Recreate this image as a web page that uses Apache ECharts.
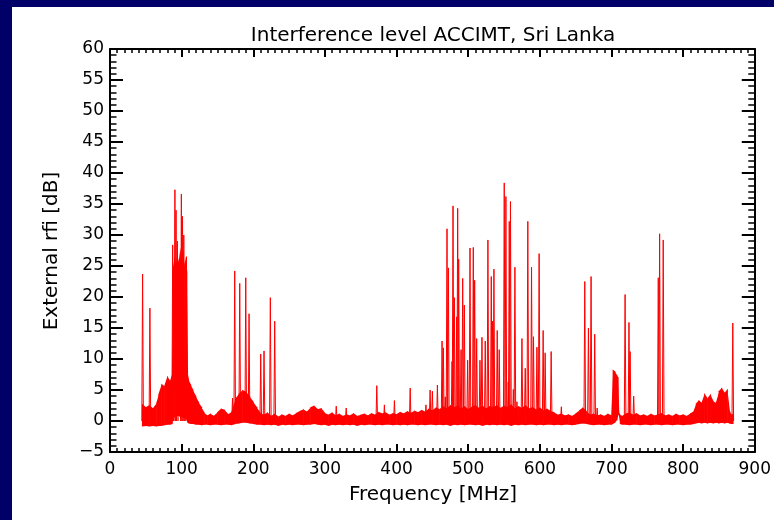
<!DOCTYPE html>
<html>
<head>
<meta charset="utf-8">
<title>Interference level ACCIMT, Sri Lanka</title>
<script src="https://cdn.jsdelivr.net/npm/echarts@6/dist/echarts.min.js"></script>
<style>
  html, body { margin: 0; padding: 0; background: #ffffff; }
  #chart { width: 774px; height: 520px; }
</style>
</head>
<body>
<div id="chart"></div>
<script>
// Axis ticks
const xTicks = [0, 100, 200, 300, 400, 500, 600, 700, 800, 900];
const yTicks = [-5, 0, 5, 10, 15, 20, 25, 30, 35, 40, 45, 50, 55, 60];

// Background noise floor of the spectrum: frequency (MHz), lower and upper edge (dB)
const bandFreq = [
  45, 50, 55, 60, 65, 68, 72, 76, 80, 84, 87,
  88, 90, 92, 94, 96, 98, 100, 102, 104, 106, 107.5,
  108.5, 110, 113, 116, 120, 124, 128, 132, 136, 140, 145, 150, 155, 160, 165, 170,
  175, 180, 185, 190, 195, 200, 205, 210, 215, 220, 225, 230, 235, 240, 245, 250,
  255, 260, 265, 270, 275, 280, 285, 290, 295, 300, 305, 310, 315, 320, 325, 330,
  335, 340, 345, 350, 355, 360, 365, 370, 375, 380, 385, 390, 395, 400, 405, 410,
  415, 420, 425, 430, 435, 440, 445, 450, 455, 460, 465, 470, 475, 480, 485, 490,
  495, 500, 505, 510, 515, 520, 525, 530, 535, 540, 545, 550, 555, 560, 565, 570,
  575, 580, 585, 590, 595, 600, 605, 610, 615, 620, 625, 630, 635, 640, 645, 650,
  655, 660, 665, 670, 675, 680, 685, 690, 695, 700,
  702, 705, 708, 709.5, 710.5, 712, 715, 720, 725, 730, 735, 740, 745, 750, 755,
  760, 765, 770, 775, 780, 785, 790, 795, 800, 805, 810,
  815, 818, 822, 826, 830, 834, 838, 842, 846, 850, 854, 858, 862, 864.5, 867, 870
];
const bandLow = [
  -0.9, -0.8, -0.9, -0.8, -0.9, -0.8, -0.8, -0.7, -0.6, -0.6, -0.5,
  0.3, 0.6, 0.8, 0.8, 0.8, 0.6, 0.6, 0.5, 0.5, 0.4, 0.0,
  -0.3, -0.4, -0.5, -0.5, -0.6, -0.6, -0.7, -0.6, -0.6, -0.7, -0.6, -0.6, -0.7, -0.6, -0.6, -0.7,
  -0.5, -0.4, -0.3, -0.3, -0.4, -0.5, -0.6, -0.6, -0.7, -0.6, -0.7, -0.6, -0.8, -0.6, -0.7, -0.6,
  -0.7, -0.6, -0.6, -0.7, -0.6, -0.6, -0.5, -0.6, -0.7, -0.6, -0.8, -0.6, -0.7, -0.6, -0.7, -0.6,
  -0.7, -0.6, -0.8, -0.6, -0.7, -0.6, -0.6, -0.7, -0.6, -0.7, -0.6, -0.6, -0.7, -0.6, -0.7, -0.6,
  -0.7, -0.6, -0.6, -0.7, -0.6, -0.7, -0.6, -0.6, -0.7, -0.6, -0.7, -0.6, -0.8, -0.6, -0.7, -0.6,
  -0.7, -0.6, -0.6, -0.7, -0.6, -0.8, -0.6, -0.7, -0.6, -0.7, -0.6, -0.7, -0.6, -0.8, -0.6, -0.7,
  -0.6, -0.7, -0.6, -0.6, -0.7, -0.6, -0.7, -0.6, -0.6, -0.7, -0.6, -0.7, -0.6, -0.6, -0.7, -0.6,
  -0.5, -0.4, -0.5, -0.6, -0.7, -0.6, -0.6, -0.7, -0.6, -0.6,
  -0.5, -0.3, 0.2, 1.0, 1.0, -0.5, -0.6, -0.6, -0.7, -0.6, -0.6, -0.7, -0.6, -0.6, -0.7,
  -0.6, -0.6, -0.7, -0.6, -0.6, -0.7, -0.6, -0.6, -0.7, -0.6, -0.6,
  -0.5, -0.4, -0.3, -0.4, -0.3, -0.4, -0.3, -0.4, -0.3, -0.4, -0.3, -0.4, -0.3, -0.4, -0.5, -0.5
];
const bandHigh = [
  2.8, 2.2, 2.6, 2.0, 2.9, 4.3, 6.0, 5.6, 7.3, 6.4, 7.8,
  24.5, 26.5, 25.0, 27.0, 25.5, 28.0, 26.0, 27.5, 25.0, 26.5, 24.0,
  8.0, 6.6, 5.8, 5.0, 4.0, 3.0, 2.2, 1.3, 0.9, 1.2, 0.8, 1.4, 2.0, 1.8, 1.1, 1.5,
  3.6, 4.4, 5.0, 4.7, 4.0, 3.1, 2.2, 1.3, 1.0, 1.4, 0.8, 1.2, 0.7, 1.1, 0.8, 1.2,
  0.9, 1.3, 1.6, 1.9, 1.5, 2.2, 2.5, 1.9, 2.1, 1.3, 1.0, 1.4, 0.9, 1.2, 0.8, 1.1,
  0.9, 1.3, 0.8, 1.0, 1.2, 0.9, 1.3, 1.0, 1.5, 1.2, 1.4, 1.0, 1.3, 1.1, 1.5, 1.2,
  1.6, 1.3, 1.7, 1.4, 1.8, 1.5, 2.0, 1.7, 2.2, 1.9, 2.4, 2.0, 2.6, 2.2, 2.5, 2.0,
  2.4, 1.9, 2.3, 2.6, 2.1, 2.5, 2.0, 2.4, 2.2, 2.6, 2.1, 2.5, 2.2, 2.7, 2.0, 2.4,
  2.1, 2.6, 2.0, 2.3, 1.8, 2.2, 1.7, 2.0, 1.6, 1.4, 1.0, 1.2, 0.9, 1.1, 0.8, 1.2,
  1.7, 2.2, 1.6, 1.0, 1.2, 0.9, 1.1, 0.8, 1.2, 0.9,
  8.3, 8.0, 7.3, 7.0, 1.5, 1.0, 0.8, 1.2, 1.4, 1.0, 1.3, 0.9, 1.1, 0.8, 1.2,
  0.9, 1.1, 1.3, 0.9, 1.1, 0.8, 1.2, 0.9, 1.1, 0.8, 1.2,
  1.6, 2.8, 3.4, 2.9, 4.5, 3.6, 4.4, 3.2, 2.9, 4.8, 5.4, 4.5, 5.2, 2.0, 1.0, 1.2
];

// Narrow carriers rising above the floor: frequency (MHz) and peak level (dB)
const spikeFreq = [
  45.5, 55.7, 87.5, 90.6, 92.2, 94, 99.6, 101.2, 103, 106.7,
  171, 174.1, 181.1, 189.5, 194.1, 210.4, 215, 223.8, 229.9,
  315.8, 329.7, 372.4, 383, 397, 419, 441, 446.8, 450, 457,
  463.5, 465.3, 468, 470.4, 472.3, 477.4, 478.8, 480.6, 483.9, 485.3, 486.7,
  490, 492.3, 494.6, 499.2, 502.5, 507.1, 509, 511.8, 516.4, 519.2,
  523.8, 527.5, 532.2, 534, 535.9, 540.5, 543.3, 550.3, 552.6, 555.9,
  557.3, 559, 563, 565.2, 568, 575, 579.6, 583.2, 588.4, 591.1,
  595.9, 599, 604.6, 607.4, 615.8, 630,
  662.7, 667.8, 671.5, 676.6, 680,
  719, 724.4, 726, 731, 765.3, 767.2, 772.2, 869.3
];
const spikeLevel = [
  23.7, 18.2, 28.4, 37.3, 34.0, 29.0, 36.6, 33.0, 30.0, 26.5,
  3.7, 24.2, 22.2, 23.1, 17.3, 10.8, 11.3, 19.9, 16.1,
  2.4, 2.1, 5.7, 2.6, 3.3, 5.3, 2.6, 5.0, 4.8, 5.8,
  12.9, 11.8, 3.9, 31.0, 24.7, 9.6, 34.7, 19.9, 16.8, 34.3, 26.1,
  11.5, 23.0, 18.7, 9.8, 27.9, 28.0, 22.7, 13.3, 9.8, 13.5,
  12.9, 29.2, 23.3, 16.1, 24.5, 14.6, 11.5, 38.4, 36.2, 6.3,
  32.2, 35.4, 5.1, 24.8, 3.1, 13.3, 8.5, 32.2, 24.8, 13.6,
  11.9, 27.0, 14.6, 11.0, 11.2, 2.3,
  22.5, 15.0, 23.3, 14.0, 2.1,
  20.4, 15.9, 11.2, 4.0, 23.1, 30.2, 29.2, 15.8
];

const RED = '#ff0000';
const INK = '#000000';
const NAVY = '#000068';
const FONT = 'DejaVu Sans';

const chart = echarts.init(document.getElementById('chart'), null, { renderer: 'canvas' });

function frameAxis(extra) {
  return Object.assign({
    type: 'value',
    gridIndex: 0,
    splitLine: { show: false },
    axisLine: { show: true, onZero: false, lineStyle: { color: INK, width: 2 } },
    minorSplitLine: { show: false }
  }, extra);
}

const xCommon = { min: xTicks[0], max: xTicks[xTicks.length - 1], interval: xTicks[1] - xTicks[0] };
const yCommon = { min: yTicks[0], max: yTicks[yTicks.length - 1], interval: yTicks[1] - yTicks[0] };
const xTickStyle = {
  axisTick: { show: true, inside: true, length: 8, lineStyle: { color: INK, width: 2 } },
  minorTick: { show: true, splitNumber: 10, length: 4, lineStyle: { color: INK, width: 1.5 } }
};
const yTickStyle = {
  axisTick: { show: true, inside: true, length: 13, lineStyle: { color: INK, width: 2 } },
  minorTick: { show: true, splitNumber: 5, length: 6.5, lineStyle: { color: INK, width: 1.5 } }
};

const option = {
  backgroundColor: '#ffffff',
  animation: false,
  color: [RED],
  grid: { left: 110, top: 49, width: 646, height: 403, containLabel: false },
  xAxis: [
    frameAxis(Object.assign({}, xCommon, xTickStyle, {
      position: 'bottom',
      axisLabel: { show: true, color: INK, fontFamily: FONT, fontSize: 17, margin: 9 }
    })),
    frameAxis(Object.assign({}, xCommon, xTickStyle, {
      position: 'top',
      axisLabel: { show: false }
    }))
  ],
  yAxis: [
    frameAxis(Object.assign({}, yCommon, yTickStyle, {
      position: 'left',
      axisLabel: {
        show: true, color: INK, fontFamily: FONT, fontSize: 17, margin: 6,
        formatter: v => String(v).replace('-', '\u2212')
      }
    })),
    frameAxis(Object.assign({}, yCommon, yTickStyle, {
      position: 'right',
      axisLabel: { show: false }
    }))
  ],
  graphic: [
    { type: 'rect', z: 100, shape: { x: 0, y: 0, width: 774, height: 7 }, style: { fill: NAVY } },
    { type: 'rect', z: 100, shape: { x: 0, y: 0, width: 12, height: 520 }, style: { fill: NAVY } },
    {
      type: 'text', x: 433, y: 35.5, z: 100,
      style: { text: 'Interference level ACCIMT, Sri Lanka', fill: INK, font: '20px "DejaVu Sans"', textAlign: 'center', textVerticalAlign: 'middle' }
    },
    {
      type: 'text', x: 433, y: 495, z: 100,
      style: { text: 'Frequency [MHz]', fill: INK, font: '20px "DejaVu Sans"', textAlign: 'center', textVerticalAlign: 'middle' }
    },
    {
      type: 'text', x: 52, y: 251, rotation: Math.PI / 2, z: 100,
      style: { text: 'External rfi [dB]', fill: INK, font: '20px "DejaVu Sans"', textAlign: 'center', textVerticalAlign: 'middle' }
    }
  ],
  series: [
    {
      // noise floor: one filled quadrilateral per frequency step, between lower and upper edge
      name: 'floor',
      type: 'custom',
      xAxisIndex: 0,
      yAxisIndex: 0,
      clip: true,
      z: 5,
      itemStyle: { color: RED },
      data: bandFreq.slice(0, -1).map((f, i) => [f, bandHigh[i], i]),
      renderItem: function (params, api) {
        const i = params.dataIndex;
        const a = api.coord([bandFreq[i], bandHigh[i]]);
        const b = api.coord([bandFreq[i + 1], bandHigh[i + 1]]);
        const c = api.coord([bandFreq[i + 1], bandLow[i + 1]]);
        const d = api.coord([bandFreq[i], bandLow[i]]);
        return {
          type: 'polygon',
          shape: { points: [[a[0] - 0.3, a[1]], [b[0] + 0.3, b[1]], [c[0] + 0.3, c[1]], [d[0] - 0.3, d[1]]] },
          style: { fill: RED, lineWidth: 0 }
        };
      }
    },
    {
      name: 'carriers',
      type: 'custom',
      xAxisIndex: 0,
      yAxisIndex: 0,
      clip: true,
      z: 6,
      itemStyle: { color: RED },
      data: spikeFreq.map((f, i) => [f, spikeLevel[i]]),
      renderItem: function (params, api) {
        const f = api.value(0);
        const base = api.coord([f, 0]);
        const top = api.coord([f, api.value(1)]);
        return {
          type: 'polyline',
          shape: { points: [[base[0] - 0.8, base[1]], [top[0], top[1]], [base[0] + 0.8, base[1]]] },
          style: { stroke: RED, fill: null, lineWidth: 1 }
        };
      }
    }
  ]
};

chart.setOption(option);
</script>
</body>
</html>
